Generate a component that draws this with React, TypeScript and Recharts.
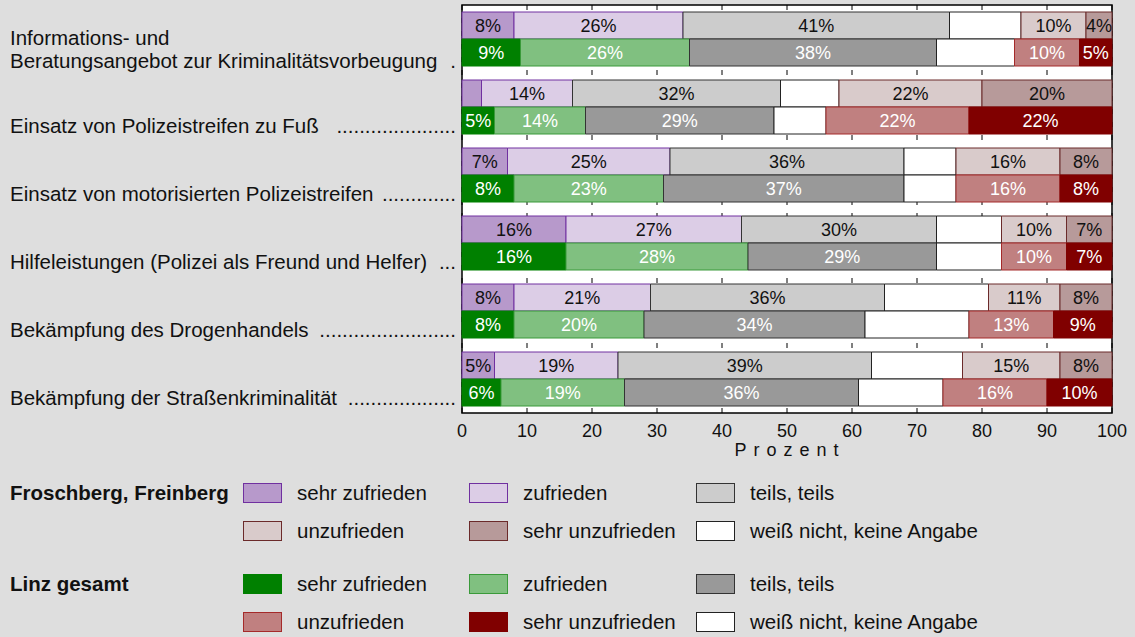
import React from "react";
import {
  BarChart,
  Bar,
  XAxis,
  YAxis,
  CartesianGrid,
  LabelList,
  ReferenceArea,
} from "recharts";

const categories = [
  "Informations- und\nBeratungsangebot zur Kriminalitätsvorbeugung",
  "Einsatz von Polizeistreifen zu Fuß",
  "Einsatz von motorisierten Polizeistreifen",
  "Hilfeleistungen (Polizei als Freund und Helfer)",
  "Bekämpfung des Drogenhandels",
  "Bekämpfung der Straßenkriminalität",
];
const leaderDots = [1, 21, 13, 3, 24, 19];
const xTicks = [0, 10, 20, 30, 40, 50, 60, 70, 80, 90, 100];

// Froschberg, Freinberg
const frSehrZufrieden = [8, 3, 7, 16, 8, 5];
const frZufrieden = [26, 14, 25, 27, 21, 19];
const frTeils = [41, 32, 36, 30, 36, 39];
const frWeissNicht = [11, 9, 8, 10, 16, 14];
const frUnzufrieden = [10, 22, 16, 10, 11, 15];
const frSehrUnzufrieden = [4, 20, 8, 7, 8, 8];

// Linz gesamt
const lzSehrZufrieden = [9, 5, 8, 16, 8, 6];
const lzZufrieden = [26, 14, 23, 28, 20, 19];
const lzTeils = [38, 29, 37, 29, 34, 36];
const lzWeissNicht = [12, 8, 8, 10, 16, 13];
const lzUnzufrieden = [10, 22, 16, 10, 13, 16];
const lzSehrUnzufrieden = [5, 22, 8, 7, 9, 10];

const FONT = '"Liberation Sans", Arial, Helvetica, sans-serif';

interface Series {
  key: string;
  name: string;
  values: number[];
  fill: string;
  stroke: string;
  text: string;
  labelled: boolean;
}

const frSeries: Series[] = [
  { key: "frSehrZufrieden", name: "sehr zufrieden", values: frSehrZufrieden, fill: "#b799cb", stroke: "#7030a0", text: "#111", labelled: true },
  { key: "frZufrieden", name: "zufrieden", values: frZufrieden, fill: "#dccde6", stroke: "#7030a0", text: "#111", labelled: true },
  { key: "frTeils", name: "teils, teils", values: frTeils, fill: "#cccccc", stroke: "#333333", text: "#111", labelled: true },
  { key: "frWeissNicht", name: "weiß nicht, keine Angabe", values: frWeissNicht, fill: "#ffffff", stroke: "#222222", text: "#111", labelled: false },
  { key: "frUnzufrieden", name: "unzufrieden", values: frUnzufrieden, fill: "#d9cbcb", stroke: "#6b2a2a", text: "#111", labelled: true },
  { key: "frSehrUnzufrieden", name: "sehr unzufrieden", values: frSehrUnzufrieden, fill: "#b79a9a", stroke: "#6b2a2a", text: "#111", labelled: true },
];

const lzSeries: Series[] = [
  { key: "lzSehrZufrieden", name: "sehr zufrieden", values: lzSehrZufrieden, fill: "#008000", stroke: "#008000", text: "#fff", labelled: true },
  { key: "lzZufrieden", name: "zufrieden", values: lzZufrieden, fill: "#80c080", stroke: "#3a9a3a", text: "#fff", labelled: true },
  { key: "lzTeils", name: "teils, teils", values: lzTeils, fill: "#999999", stroke: "#333333", text: "#fff", labelled: true },
  { key: "lzWeissNicht", name: "weiß nicht, keine Angabe", values: lzWeissNicht, fill: "#ffffff", stroke: "#222222", text: "#fff", labelled: false },
  { key: "lzUnzufrieden", name: "unzufrieden", values: lzUnzufrieden, fill: "#c08080", stroke: "#a52a2a", text: "#fff", labelled: true },
  { key: "lzSehrUnzufrieden", name: "sehr unzufrieden", values: lzSehrUnzufrieden, fill: "#800000", stroke: "#800000", text: "#fff", labelled: true },
];

const data = categories.map((name, i) => {
  const row: Record<string, string | number> = { name };
  [...frSeries, ...lzSeries].forEach((s) => {
    row[s.key] = s.values[i];
  });
  return row;
});

function makeLabel(color: string) {
  return function SegmentLabel(props: any) {
    const vb = props.viewBox ?? props;
    const x = vb.x ?? props.x;
    const y = vb.y ?? props.y;
    const width = vb.width ?? props.width;
    const height = vb.height ?? props.height;
    const value = Number(props.value);
    if (!value || value < 4) return null;
    return (
      <text
        x={x + width / 2}
        y={y + height / 2}
        dy="0.36em"
        textAnchor="middle"
        fill={color}
        fontSize={18}
        fontFamily={FONT}
      >
        {value}%
      </text>
    );
  };
}

function YTick(props: any) {
  const { y, payload } = props;
  const idx = payload.index ?? categories.indexOf(payload.value);
  const lines = categories[idx].split("\n");
  const baselines = lines.length > 1 ? [y + 6, y + 29] : [y + 26];
  const last = baselines[baselines.length - 1];
  return (
    <g>
      {lines.map((line, i) => (
        <text key={i} x={10} y={baselines[i]} fontSize={20.5} fontFamily={FONT} fill="#111">
          {line}
        </text>
      ))}
      <text x={456} y={last} textAnchor="end" fontSize={20.5} fontFamily={FONT} fill="#111">
        {".".repeat(leaderDots[idx])}
      </text>
    </g>
  );
}

function AxisTitle(props: any) {
  const vb = props.viewBox ?? {};
  return (
    <text
      x={vb.x + vb.width / 2 + 3}
      y={vb.y + 43}
      textAnchor="middle"
      fontSize={18}
      fontFamily={FONT}
      fill="#111"
      letterSpacing={7}
    >
      Prozent
    </text>
  );
}

const legendGroups = ["Froschberg, Freinberg", "Linz gesamt"];
const legendRowOrder = [
  [0, 1, 2],
  [4, 5, 3],
];
const legendRowCenters = [493, 531, 583.5, 621.7];
const swatchX = [243, 469, 696];
const labelX = [297, 523, 750];

function LegendBlock() {
  const items: React.ReactNode[] = [];
  [frSeries, lzSeries].forEach((series, g) => {
    items.push(
      <div
        key={`g${g}`}
        style={{
          position: "absolute",
          left: 10,
          top: legendRowCenters[g * 2] - 12,
          lineHeight: "24px",
          fontSize: 20.5,
          fontWeight: "bold",
          color: "#111",
        }}
      >
        {legendGroups[g]}
      </div>
    );
    legendRowOrder.forEach((order, r) => {
      const cy = legendRowCenters[g * 2 + r];
      order.forEach((si, c) => {
        const s = series[si];
        items.push(
          <div
            key={`s${g}-${r}-${c}`}
            style={{
              position: "absolute",
              left: swatchX[c],
              top: cy - 10,
              width: 39,
              height: 20,
              boxSizing: "border-box",
              background: s.fill,
              border: `1px solid ${s.stroke}`,
            }}
          />
        );
        items.push(
          <div
            key={`t${g}-${r}-${c}`}
            style={{
              position: "absolute",
              left: labelX[c],
              top: cy - 12,
              lineHeight: "24px",
              fontSize: 20.5,
              color: "#111",
              whiteSpace: "nowrap",
            }}
          >
            {s.name}
          </div>
        );
      });
    });
  });
  return <>{items}</>;
}

export default function App() {
  return (
    <div
      style={{
        position: "absolute",
        left: 0,
        top: 0,
        width: 1135,
        height: 637,
        background: "#dedede",
        fontFamily: FONT,
        overflow: "hidden",
      }}
    >
      <BarChart
        width={1135}
        height={470}
        data={data}
        layout="vertical"
        margin={{ top: 5, right: 23, bottom: 27, left: 0 }}
        barCategoryGap={7}
        barGap={0}
      >
        <CartesianGrid
          horizontal={false}
          stroke="#000"
          strokeDasharray="5 8"
          fill="#ffffff"
          fillOpacity={1}
        />
        <XAxis
          type="number"
          domain={[0, 100]}
          ticks={xTicks}
          axisLine={false}
          tickLine={false}
          tickMargin={5}
          height={30}
          tick={{ fontSize: 18, fill: "#111", fontFamily: FONT }}
          label={<AxisTitle />}
        />
        <YAxis
          type="category"
          dataKey="name"
          width={462}
          axisLine={false}
          tickLine={false}
          interval={0}
          tick={<YTick />}
        />
        {frSeries.map((s) => (
          <Bar
            key={s.key}
            dataKey={s.key}
            stackId="fr"
            fill={s.fill}
            stroke={s.stroke}
            strokeWidth={1}
            isAnimationActive={false}
          >
            {s.labelled && <LabelList dataKey={s.key} content={makeLabel(s.text)} />}
          </Bar>
        ))}
        {lzSeries.map((s) => (
          <Bar
            key={s.key}
            dataKey={s.key}
            stackId="lz"
            fill={s.fill}
            stroke={s.stroke}
            strokeWidth={1}
            isAnimationActive={false}
          >
            {s.labelled && <LabelList dataKey={s.key} content={makeLabel(s.text)} />}
          </Bar>
        ))}
        <ReferenceArea x1={0} x2={100} fill="none" stroke="#000" strokeWidth={1.5} ifOverflow="visible" />
      </BarChart>
      <LegendBlock />
    </div>
  );
}
